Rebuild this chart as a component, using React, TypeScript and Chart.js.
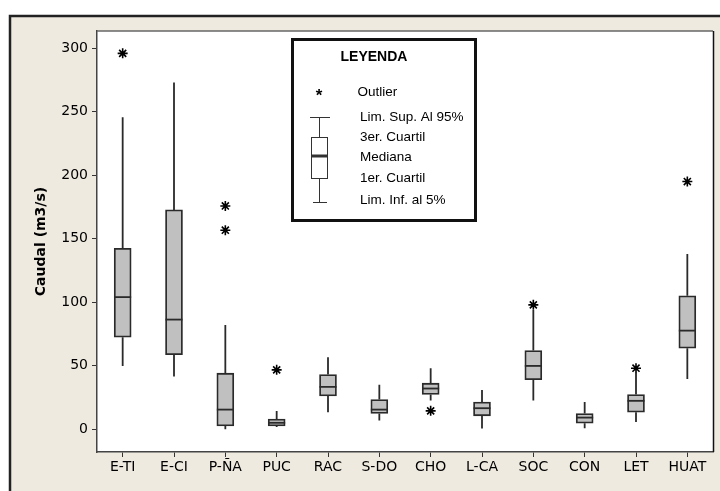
import React, { useEffect, useRef } from "react";
import { Chart, registerables } from "chart.js";

Chart.register(...registerables);

const categories = ["E-TI", "E-CI", "P-ÑA", "PUC", "RAC", "S-DO", "CHO", "L-CA", "SOC", "CON", "LET", "HUAT"];
const lowerWhisker = [49.8, 41.4, 0, 1.6, 13.4, 6.8, 22.5, 0.5, 22.5, 0.8, 5.7, 39.4];
const q1 = [72.4, 58.7, 2.6, 2.6, 26.2, 12.3, 27.3, 10.5, 39, 4.7, 13.4, 63.8];
const median = [104, 86.3, 15.4, 5, 33.3, 15.4, 32, 16.5, 49.8, 9.1, 22.3, 77.6];
const q3 = [142.5, 172.7, 44.1, 7.9, 43, 23.3, 36.2, 21.3, 61.9, 12.3, 27.3, 105];
const upperWhisker = [245.7, 273, 82.1, 14.2, 56.7, 34.9, 48, 30.9, 93.9, 21.3, 44.9, 138];
const outlierCats = ["E-TI", "P-ÑA", "P-ÑA", "PUC", "CHO", "SOC", "LET", "HUAT"];
const outlierVals = [296, 175.8, 156.7, 46.7, 14.4, 97.9, 48, 195];
const yTicks = [0, 50, 100, 150, 200, 250, 300];
const yMin = -18;
const yMax = 313.6;
const yTitle = "Caudal (m3/s)";
const legendTitle = "LEYENDA";
const legendLabels = ["Outlier", "Lim. Sup. Al 95%", "3er. Cuartil", "Mediana", "1er. Cuartil", "Lim. Inf. al 5%"];

const BEIGE = "#EEEAE0";

const framePlugin = {
  id: "frame",
  beforeDraw(chart: any) {
    const { ctx, chartArea: a, width, height } = chart;
    ctx.save();
    ctx.fillStyle = "#ffffff";
    ctx.fillRect(0, 0, width, height);
    ctx.fillStyle = BEIGE;
    ctx.fillRect(9, 15, width, height);
    ctx.strokeStyle = "#222";
    ctx.lineWidth = 2.5;
    ctx.beginPath();
    ctx.moveTo(10, height + 5);
    ctx.lineTo(10, 16);
    ctx.lineTo(width + 5, 16);
    ctx.stroke();
    ctx.fillStyle = "#ffffff";
    ctx.fillRect(a.left, a.top, a.right - a.left, a.bottom - a.top);
    ctx.restore();
  },
  afterDatasetsDraw(chart: any) {
    const { ctx } = chart;
    const y = chart.scales.y;
    const meta = chart.getDatasetMeta(0);
    ctx.save();
    ctx.strokeStyle = "#2a2a2a";
    ctx.lineWidth = 1.8;
    meta.data.forEach((bar: any, i: number) => {
      const x = bar.x;
      const hw = bar.width / 2;
      ctx.beginPath();
      ctx.moveTo(x, y.getPixelForValue(upperWhisker[i]));
      ctx.lineTo(x, y.getPixelForValue(q3[i]));
      ctx.moveTo(x, y.getPixelForValue(q1[i]));
      ctx.lineTo(x, y.getPixelForValue(lowerWhisker[i]));
      ctx.stroke();
      const m = y.getPixelForValue(median[i]);
      ctx.beginPath();
      ctx.moveTo(bar.x - hw, m);
      ctx.lineTo(bar.x + hw, m);
      ctx.stroke();
    });
    ctx.restore();
  },
  afterDraw(chart: any) {
    const { ctx, chartArea: a } = chart;
    ctx.save();
    ctx.strokeStyle = "#666";
    ctx.lineWidth = 1.5;
    ctx.beginPath();
    ctx.moveTo(a.left, a.top);
    ctx.lineTo(a.right, a.top);
    ctx.stroke();
    ctx.strokeStyle = "#111";
    ctx.beginPath();
    ctx.moveTo(a.right + 0.5, a.top);
    ctx.lineTo(a.right + 0.5, a.bottom);
    ctx.stroke();

    const lx = 291, ly = 38, lw = 186, lh = 184;
    ctx.fillStyle = "#ffffff";
    ctx.fillRect(lx, ly, lw, lh);
    ctx.strokeStyle = "#111";
    ctx.lineWidth = 3;
    ctx.strokeRect(lx + 1.5, ly + 1.5, lw - 3, lh - 3);

    ctx.fillStyle = "#000";
    ctx.textBaseline = "middle";
    ctx.textAlign = "center";
    ctx.font = "bold 14px 'Liberation Sans', Arial, sans-serif";
    ctx.fillText(legendTitle, 374, 57);

    ctx.font = "bold 17px 'Liberation Sans', Arial, sans-serif";
    ctx.fillText("*", 319, 96);

    ctx.textAlign = "left";
    ctx.font = "13.5px 'Liberation Sans', Arial, sans-serif";
    const ys = [92.7, 117, 137.5, 157.7, 178.3, 200];
    const xs = [357.5, 360, 360, 360, 360, 360];
    legendLabels.forEach((t, i) => ctx.fillText(t, xs[i], ys[i]));

    ctx.strokeStyle = "#333";
    ctx.lineWidth = 1;
    ctx.beginPath();
    ctx.moveTo(310, 117.5);
    ctx.lineTo(330, 117.5);
    ctx.moveTo(319.5, 117.5);
    ctx.lineTo(319.5, 137.5);
    ctx.moveTo(319.5, 178.5);
    ctx.lineTo(319.5, 202.5);
    ctx.moveTo(313, 202.5);
    ctx.lineTo(327, 202.5);
    ctx.stroke();
    ctx.strokeRect(311.5, 137.5, 16, 41);
    ctx.lineWidth = 3;
    ctx.beginPath();
    ctx.moveTo(311.5, 156);
    ctx.lineTo(327.5, 156);
    ctx.stroke();
    ctx.restore();
  },
};

export default function App() {
  const ref = useRef<HTMLCanvasElement | null>(null);
  useEffect(() => {
    if (!ref.current) return;
    const chart = new Chart(ref.current, {
      type: "bar",
      data: {
        labels: categories,
        datasets: [
          {
            type: "bar",
            data: categories.map((_, i) => [q1[i], q3[i]]),
            backgroundColor: "#C0C0C0",
            borderColor: "#2a2a2a",
            borderWidth: 1.8,
            borderSkipped: false,
            barThickness: 17,
          } as any,
          {
            type: "line",
            data: outlierCats.map((c, i) => ({ x: c, y: outlierVals[i] })),
            showLine: false,
            pointStyle: "star",
            pointRadius: 5,
            pointBorderWidth: 1.6,
            pointBorderColor: "#000",
            pointBackgroundColor: "#000",
            borderColor: "#000",
          } as any,
        ],
      },
      options: {
        animation: false,
        responsive: false,
        devicePixelRatio: 1,
        layout: { padding: { left: 0, top: 31, right: 7, bottom: 0 } },
        plugins: { legend: { display: false }, tooltip: { enabled: false } },
        scales: {
          x: {
            offset: true,
            grid: { display: true, drawOnChartArea: false, offset: false, tickLength: 5, color: "#333", lineWidth: 1 },
            border: { display: true, color: "#444", width: 1.5 },
            ticks: { color: "#000", font: { family: "'DejaVu Sans', sans-serif", size: 14 }, padding: 2, autoSkip: false, maxRotation: 0 },
            afterFit: (s: any) => { s.height = 39; },
          },
          y: {
            min: yMin,
            max: yMax,
            grid: { display: true, drawOnChartArea: false, tickLength: 5, color: "#333", lineWidth: 1 },
            border: { display: true, color: "#444", width: 1.5 },
            ticks: { color: "#000", font: { family: "'DejaVu Sans', sans-serif", size: 14 }, padding: 4 },
            afterBuildTicks: (s: any) => { s.ticks = yTicks.map((v) => ({ value: v })); },
            afterFit: (s: any) => { s.width = 97; },
            title: {
              display: true,
              text: yTitle,
              color: "#000",
              font: { family: "'DejaVu Sans', sans-serif", size: 14, weight: "bold" },
              padding: { top: 33, bottom: 0 },
            },
          },
        },
      } as any,
      plugins: [framePlugin],
    });
    return () => chart.destroy();
  }, []);
  return (
    <div style={{ position: "absolute", left: 0, top: 0, width: 720, height: 491 }}>
      <canvas ref={ref} width={720} height={491} />
    </div>
  );
}
